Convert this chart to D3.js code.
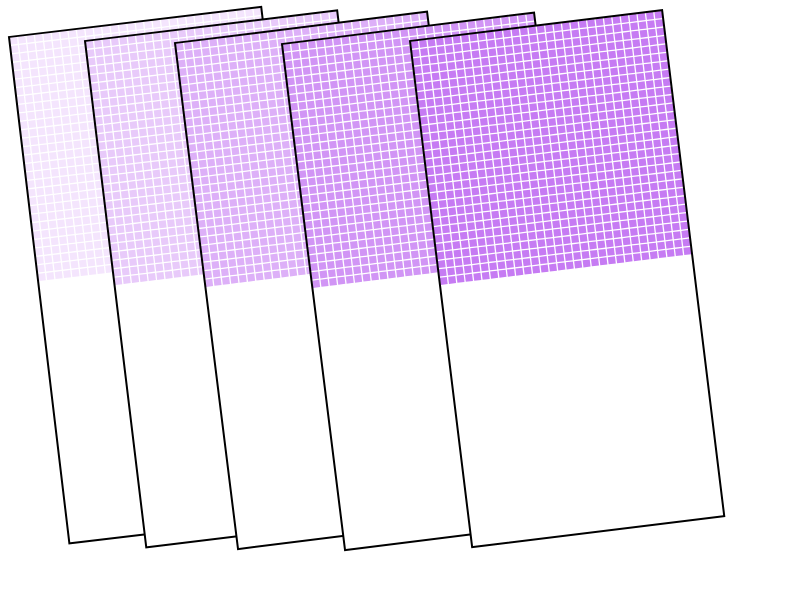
<!DOCTYPE html>
<html>
<head>
<meta charset="utf-8">
<script src="https://cdn.jsdelivr.net/npm/d3@7"></script>
<style>
  body { margin: 0; background: #fff; }
  svg { display: block; }
</style>
</head>
<body>
<svg id="vis" width="800" height="600"></svg>
<script>
// data
var cards = ["card 1", "card 2", "card 3", "card 4", "card 5"];
var filledCells = [870, 870, 870, 870, 870];   // cells coloured, out of cols * rows
var intensity = [0.2, 0.4, 0.6, 0.8, 1.0];
var cols = 30;
var rows = 60;

// layout
var cardW = 254;
var cardH = 510;
var anchors = [[9, 37], [85, 41], [175, 43], [282, 44], [410, 41]];
var angles = [-6.8, -6.9, -7.1, -7.1, -7.0];
var baseColor = "#c67bf3";
var gap = 1.3;

var color = d3.scaleLinear().domain([0, 1]).range(["#ffffff", baseColor]);
var x = d3.scaleLinear().domain([0, cols]).range([0, cardW]);
var y = d3.scaleLinear().domain([0, rows]).range([0, cardH]);

var vis = d3.select("#vis");

var card = vis.selectAll("g.card")
    .data(cards)
    .enter()
    .append("g")
    .attr("class", "card")
    .attr("transform", function (d, i) {
        return "translate(" + anchors[i][0] + "," + anchors[i][1] + ") rotate(" + angles[i] + ")";
    });

// white card
card.append("rect")
    .attr("width", cardW)
    .attr("height", cardH)
    .style("fill", "#fff");

// cells
card.each(function (d, i) {
    var cells = d3.range(filledCells[i]);
    d3.select(this).append("g")
        .selectAll("rect")
        .data(cells)
        .enter()
        .append("rect")
        .attr("x", function (c) { return x(c % cols) + gap / 2; })
        .attr("y", function (c) { return y(Math.floor(c / cols)) + gap / 2; })
        .attr("width", x(1) - gap)
        .attr("height", y(1) - gap)
        .style("fill", color(intensity[i]));
});

// border
card.append("rect")
    .attr("width", cardW)
    .attr("height", cardH)
    .style("fill", "none")
    .style("stroke", "#000")
    .style("stroke-width", 2);
</script>
</body>
</html>
